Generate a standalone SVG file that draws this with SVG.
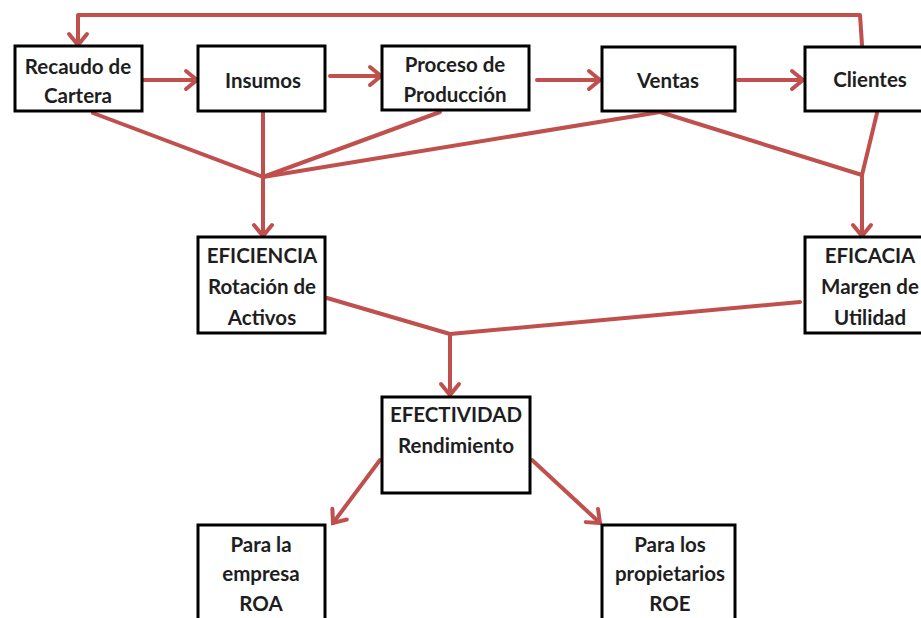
<svg xmlns="http://www.w3.org/2000/svg" width="921" height="618" viewBox="0 0 921 618">
<style>
.box{fill:#ffffff;stroke:#000000;stroke-width:3}
.t{font-family:Lato,"Liberation Sans",sans-serif;font-weight:bold;font-size:20.5px;fill:#1e1e1e;text-anchor:middle}
.c{fill:none;stroke:#c0504d;stroke-width:4;stroke-linecap:round;stroke-linejoin:round}
.a{marker-end:url(#arr)}
</style>
<defs>
<marker id="arr" markerUnits="userSpaceOnUse" markerWidth="24" markerHeight="24" viewBox="0 0 24 24" refX="14" refY="12" orient="auto">
<path d="M3,3 L14,12 L3,21" fill="none" stroke="#c0504d" stroke-width="4" stroke-linecap="round" stroke-linejoin="miter"/>
</marker>
</defs>
<rect width="921" height="618" fill="#ffffff"/>
<g id="connectors">
<polyline class="c a" points="862,45 860,15 78,15 78,45"/>
<line class="c a" x1="143" y1="80" x2="197" y2="80"/>
<line class="c a" x1="330" y1="76" x2="381" y2="76"/>
<line class="c a" x1="537" y1="80" x2="600" y2="80"/>
<line class="c a" x1="738" y1="80" x2="803" y2="80"/>
<line class="c" x1="93" y1="113" x2="263" y2="177"/>
<line class="c" x1="440" y1="112" x2="263" y2="177"/>
<line class="c" x1="660" y1="112" x2="263" y2="177"/>
<line class="c a" x1="263" y1="111" x2="263" y2="236"/>
<line class="c" x1="660" y1="112" x2="862" y2="175"/>
<line class="c" x1="877" y1="113" x2="862" y2="175"/>
<line class="c a" x1="862" y1="175" x2="862" y2="236"/>
<line class="c" x1="327" y1="298" x2="450" y2="334"/>
<line class="c" x1="800" y1="302" x2="450" y2="334"/>
<line class="c a" x1="450" y1="334" x2="450" y2="395"/>
<line class="c a" x1="380" y1="460" x2="333" y2="523"/>
<line class="c a" x1="532" y1="460" x2="600" y2="523"/>
</g>
<g id="recaudo"><rect class="box" x="15" y="46" width="127" height="65"/><text class="t" x="78" y="74">Recaudo de</text><text class="t" x="78" y="103">Cartera</text></g>
<g id="insumos"><rect class="box" x="198" y="46" width="127" height="65"/><text class="t" x="263" y="88">Insumos</text></g>
<g id="proceso"><rect class="box" x="382" y="46" width="147" height="64"/><text class="t" x="455" y="72">Proceso de</text><text class="t" x="455" y="102">Producción</text></g>
<g id="ventas"><rect class="box" x="602" y="47" width="133" height="64"/><text class="t" x="668" y="88">Ventas</text></g>
<g id="clientes"><rect class="box" x="805" y="47" width="130" height="64"/><text class="t" x="870" y="87">Clientes</text></g>
<g id="eficiencia"><rect class="box" x="198" y="237" width="127" height="96"/><text class="t" x="262" y="263">EFICIENCIA</text><text class="t" x="262" y="294">Rotación de</text><text class="t" x="262" y="325">Activos</text></g>
<g id="eficacia"><rect class="box" x="805" y="237" width="130" height="96"/><text class="t" x="870" y="263">EFICACIA</text><text class="t" x="870" y="294">Margen de</text><text class="t" x="870" y="325">Utilidad</text></g>
<g id="efectividad"><rect class="box" x="382" y="397" width="148" height="96"/><text class="t" x="456" y="422">EFECTIVIDAD</text><text class="t" x="456" y="453">Rendimiento</text></g>
<g id="roa"><rect class="box" x="198" y="525" width="127" height="110"/><text class="t" x="261" y="552">Para la</text><text class="t" x="261" y="581">empresa</text><text class="t" x="261" y="611">ROA</text></g>
<g id="roe"><rect class="box" x="602" y="525" width="133" height="110"/><text class="t" x="670" y="552">Para los</text><text class="t" x="670" y="581">propietarios</text><text class="t" x="670" y="611">ROE</text></g>
</svg>
